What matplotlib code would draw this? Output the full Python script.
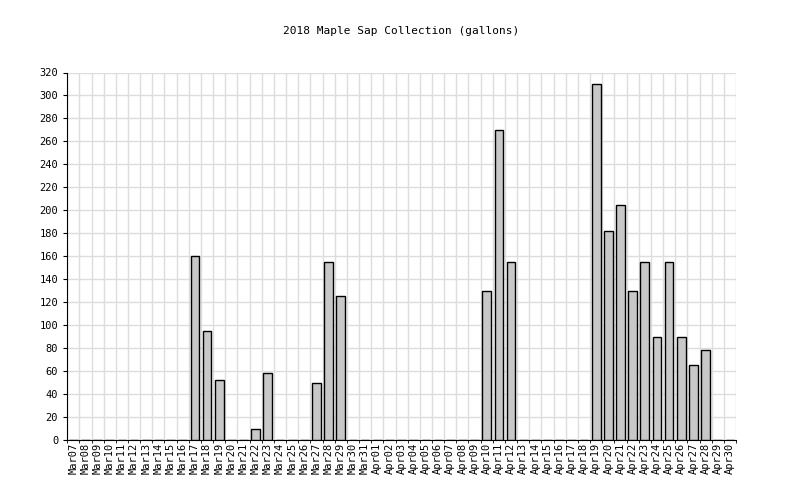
import numpy as np
import matplotlib
matplotlib.use('Agg')
from matplotlib import pyplot as plt

#   tage und werte
days = ['Mar%02d' % d for d in range(7, 32)] + ['Apr%02d' % d for d in range(1, 31)]
sap = {'Mar17': 160, 'Mar18': 95, 'Mar19': 52, 'Mar22': 10, 'Mar23': 58,
       'Mar27': 50, 'Mar28': 155, 'Mar29': 125, 'Apr10': 130, 'Apr11': 270,
       'Apr12': 155, 'Apr19': 310, 'Apr20': 182, 'Apr21': 205, 'Apr22': 130,
       'Apr23': 155, 'Apr24': 90, 'Apr25': 155, 'Apr26': 90, 'Apr27': 65,
       'Apr28': 78}
values = [sap.get(d, 0) for d in days]

plt.rcParams['font.family'] = 'DejaVu Sans Mono'
fig = plt.figure(figsize=(8, 5), dpi=100)
ax = fig.add_axes([0.084, 0.12, 0.836, 0.735])

x = np.arange(len(days))
ax.bar(x, values, width=0.72, color='#c8c8c8', edgecolor='black', linewidth=1, zorder=3)

ax.set_xlim(-0.5, len(days) - 0.5)
ax.set_ylim(0, 320)
ax.set_yticks(range(0, 321, 20))
ax.set_xticks(x)
ax.set_xticklabels(days, rotation=90, fontsize=7.5)
ax.tick_params(axis='y', labelsize=7.5, length=3)
ax.tick_params(axis='x', length=0, pad=2)
ax.set_xticks(np.arange(-0.5, len(days), 1), minor=True)
ax.grid(True, axis='x', which='minor', color='#dddddd', linewidth=1, zorder=0)
ax.grid(True, axis='y', which='major', color='#dddddd', linewidth=1, zorder=0)
for s in ['top', 'right']:
    ax.spines[s].set_visible(False)
ax.set_title('2018 Maple Sap Collection (gallons)', fontsize=8, pad=28)

plt.savefig('out.png')
